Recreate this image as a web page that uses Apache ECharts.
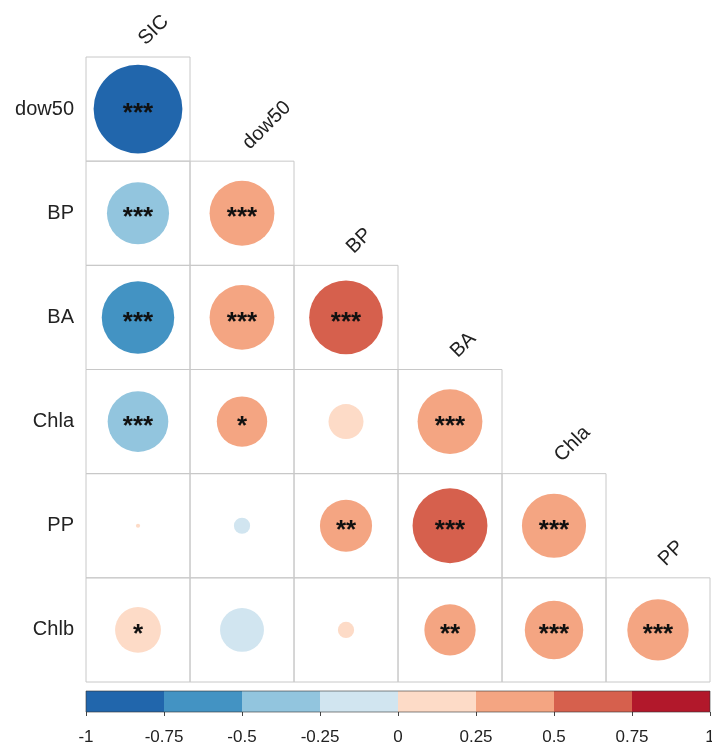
<!DOCTYPE html>
<html>
<head>
<meta charset="utf-8">
<script src="https://cdn.jsdelivr.net/npm/echarts@6/dist/echarts.min.js"></script>
<style>
  html, body { margin: 0; padding: 0; background: #fff; }
  #corrChart { width: 712px; height: 747px; }
</style>
</head>
<body>
<div id="corrChart"></div>
<script>
const corrChart = echarts.init(document.getElementById('corrChart'));

// variables (rows top->bottom, columns left->right)
const rowNames = ['dow50', 'BP', 'BA', 'Chla', 'PP', 'Chlb'];
const colNames = ['SIC', 'dow50', 'BP', 'BA', 'Chla', 'PP'];

// lower triangle correlations, one list per row
const corrValues = [
    [-0.90],
    [-0.44, 0.48],
    [-0.60, 0.48, 0.62],
    [-0.42, 0.29, 0.14, 0.48],
    [0.002, -0.03, 0.31, 0.64, 0.47],
    [0.24, -0.22, 0.03, 0.30, 0.39, 0.43]
];
const sigStars = [
    ['***'],
    ['***', '***'],
    ['***', '***', '***'],
    ['***', '*', '', '***'],
    ['', '', '**', '***', '***'],
    ['*', '', '', '**', '***', '***']
];

// colour key
const binEdges = [-1, -0.75, -0.5, -0.25, 0, 0.25, 0.5, 0.75, 1];
const binColors = ['#2166AC', '#4393C3', '#92C5DE', '#D1E5F0', '#FDDBC7', '#F4A582', '#D6604D', '#B2182B'];

const gridLeft = 86, gridTop = 57, gridW = 624, gridH = 625;
const cellSize = gridW / colNames.length;

function buildPoints() {
    let pts = [];
    for (let i = 0; i < corrValues.length; i++) {
        for (let j = 0; j < corrValues[i].length; j++) {
            pts.push([j, i, corrValues[i][j], sigStars[i][j]]);
        }
    }
    return pts;
}

function colorFor(v) {
    for (let k = 0; k < binColors.length; k++) {
        if (v <= binEdges[k + 1]) return binColors[k];
    }
    return binColors[binColors.length - 1];
}

function defineCorrOption(points) {
    let bins = [];
    for (let k = 0; k < binColors.length; k++) bins.push([binEdges[k], binEdges[k + 1], k]);

    return {
        animation: false,
        textStyle: { fontFamily: 'Liberation Sans' },
        grid: [
            { left: gridLeft, top: gridTop, width: gridW, height: gridH, outerBoundsMode: 'none' },
            { left: gridLeft, top: 691, width: gridW, height: 21, outerBoundsMode: 'none' }
        ],
        xAxis: [
            {
                type: 'category', gridIndex: 0, data: colNames,
                axisLine: { show: false }, axisTick: { show: false }, axisLabel: { show: false },
                splitLine: { show: false }
            },
            {
                type: 'value', gridIndex: 1, min: -1, max: 1, interval: 0.25,
                axisLine: { show: false },
                splitLine: { show: false },
                axisTick: { show: true, length: 4, lineStyle: { color: '#444' } },
                axisLabel: { fontSize: 17, color: '#222', margin: 17 }
            }
        ],
        yAxis: [
            {
                type: 'category', gridIndex: 0, data: rowNames, inverse: true,
                axisLine: { show: false }, axisTick: { show: false },
                splitLine: { show: false },
                axisLabel: { fontSize: 20, color: '#222', margin: 12 }
            },
            {
                type: 'value', gridIndex: 1, min: 0, max: 1, show: false
            }
        ],
        series: [
            {
                // cell boxes and rotated column names
                type: 'custom',
                xAxisIndex: 0, yAxisIndex: 0,
                silent: true,
                data: points,
                renderItem: (params, api) => {
                    let c = api.coord([api.value(0), api.value(1)]);
                    let s = api.size([1, 1]);
                    let children = [{
                        type: 'rect',
                        shape: { x: c[0] - s[0] / 2, y: c[1] - s[1] / 2, width: s[0], height: s[1] },
                        style: { fill: 'none', stroke: '#c8c8c8', lineWidth: 1 }
                    }];
                    if (api.value(0) === api.value(1)) {
                        children.push({
                            type: 'text',
                            x: c[0] + 11, y: c[1] - s[1] / 2 - 8,
                            rotation: Math.PI / 4,
                            style: {
                                text: colNames[api.value(0)],
                                fontSize: 20, fontFamily: 'Liberation Sans', fill: '#222',
                                align: 'left', verticalAlign: 'bottom'
                            }
                        });
                    }
                    return { type: 'group', children: children };
                }
            },
            {
                type: 'scatter',
                xAxisIndex: 0, yAxisIndex: 0,
                data: points,
                symbol: 'circle',
                symbolSize: (val) => cellSize * 0.9 * Math.sqrt(Math.abs(val[2])),
                itemStyle: {
                    opacity: 1,
                    color: (p) => colorFor(p.value[2])
                },
                label: {
                    show: true,
                    position: 'inside',
                    formatter: (p) => p.value[3],
                    fontSize: 26,
                    fontWeight: 'bold',
                    color: '#111',
                    offset: [0, 5]
                }
            },
            {
                // colour bar
                type: 'custom',
                xAxisIndex: 1, yAxisIndex: 1,
                silent: true,
                data: bins,
                renderItem: (params, api) => {
                    let p0 = api.coord([api.value(0), 1]);
                    let p1 = api.coord([api.value(1), 0]);
                    return {
                        type: 'rect',
                        shape: { x: p0[0], y: p0[1], width: p1[0] - p0[0], height: p1[1] - p0[1] },
                        style: { fill: binColors[api.value(2)], stroke: null }
                    };
                }
            },
            {
                // outline of the colour bar
                type: 'custom',
                xAxisIndex: 1, yAxisIndex: 1,
                silent: true,
                data: [[-1, 1]],
                renderItem: (params, api) => {
                    let p0 = api.coord([api.value(0), 1]);
                    let p1 = api.coord([api.value(1), 0]);
                    return {
                        type: 'rect',
                        shape: { x: p0[0], y: p0[1], width: p1[0] - p0[0], height: p1[1] - p0[1] },
                        style: { fill: 'none', stroke: '#333', lineWidth: 1, opacity: 0.6 }
                    };
                }
            }
        ]
    };
}

corrChart.setOption(defineCorrOption(buildPoints()));
</script>
</body>
</html>
